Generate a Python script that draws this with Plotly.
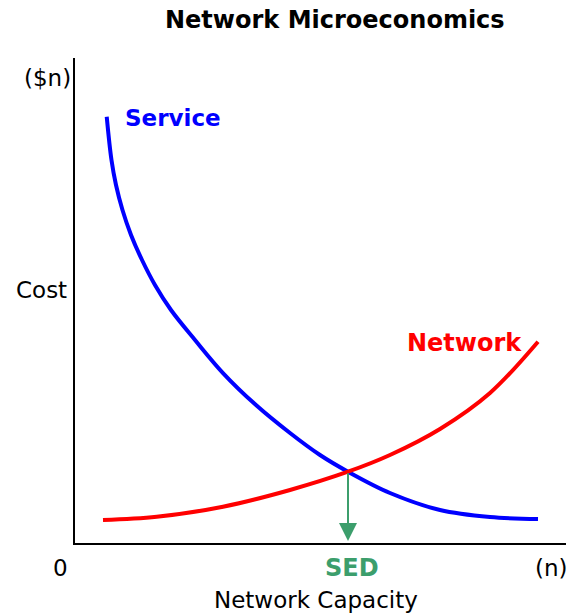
import plotly.graph_objects as go

# Data (arbitrary units, axes 0..10)
service_x = [0.646, 0.743, 0.835, 0.967, 1.141, 1.365, 1.629, 1.955, 2.444, 3.014, 3.686, 4.379, 4.990, 5.560, 6.415, 7.434, 8.452, 9.430]
service_y = [8.790, 7.897, 7.381, 6.866, 6.351, 5.835, 5.320, 4.804, 4.186, 3.505, 2.845, 2.268, 1.814, 1.470, 1.031, 0.680, 0.536, 0.495]
network_x = [0.570, 1.664, 3.014, 4.379, 5.560, 6.415, 7.434, 8.452, 9.430]
network_y = [0.474, 0.542, 0.748, 1.093, 1.470, 1.814, 2.351, 3.093, 4.151]
sed_x = 5.56
sed_y = 1.47

W, H = 573, 614
L, R, T, B = 75, 566, 58, 543

def dy(py):
    return (B - py) / (B - T) * 10

def px_to_paper(px, py):
    return (px - L) / (R - L), (B - py) / (B - T)

FONT = "DejaVu Sans"

fig = go.Figure()
fig.add_trace(go.Scatter(x=service_x, y=service_y, mode="lines",
                         line=dict(color="#0000ff", width=4, shape="spline", smoothing=1.0),
                         hoverinfo="skip"))
fig.add_trace(go.Scatter(x=network_x, y=network_y, mode="lines",
                         line=dict(color="#ff0000", width=4, shape="spline", smoothing=1.0),
                         hoverinfo="skip"))

green = "#3c9e6c"
ann = []
ann.append(dict(x=sed_x, y=dy(541), ax=sed_x, ay=sed_y, xref="x", yref="y", axref="x", ayref="y",
                showarrow=True, arrowhead=2, arrowsize=1.8, arrowwidth=2, arrowcolor=green, text=""))

def txt(s, px, py, size, color="black", bold=False):
    x, y = px_to_paper(px, py)
    ann.append(dict(x=x, y=y, xref="paper", yref="paper", text=f"<b>{s}</b>" if bold else s,
                    showarrow=False, font=dict(family=FONT, size=size, color=color),
                    xanchor="center", yanchor="middle"))

txt("Network Microeconomics", 335, 20, 24, bold=True)
txt("Service", 173, 118, 23, color="#0000ff", bold=True)
txt("Network", 464, 343, 24, color="#ff0000", bold=True)
txt("($n)", 47, 78, 23)
txt("Cost", 41, 290, 23)
txt("0", 60, 568, 23)
txt("SED", 352, 568, 24, color=green, bold=True)
txt("(n)", 551, 568, 23)
txt("Network Capacity", 316, 600, 23)

fig.update_layout(
    width=W, height=H,
    margin=dict(l=L, r=W - R, t=T, b=H - B, autoexpand=False),
    plot_bgcolor="white", paper_bgcolor="white",
    showlegend=False,
    annotations=ann,
    xaxis=dict(range=[0, 10], showline=True, linecolor="black", linewidth=2,
               showgrid=False, zeroline=False, showticklabels=False, ticks=""),
    yaxis=dict(range=[0, 10], showline=True, linecolor="black", linewidth=2,
               showgrid=False, zeroline=False, showticklabels=False, ticks=""),
)
fig.write_html("out.html", config={"displayModeBar": False},
               post_script="document.body.style.margin='0';document.body.style.overflow='hidden';")
